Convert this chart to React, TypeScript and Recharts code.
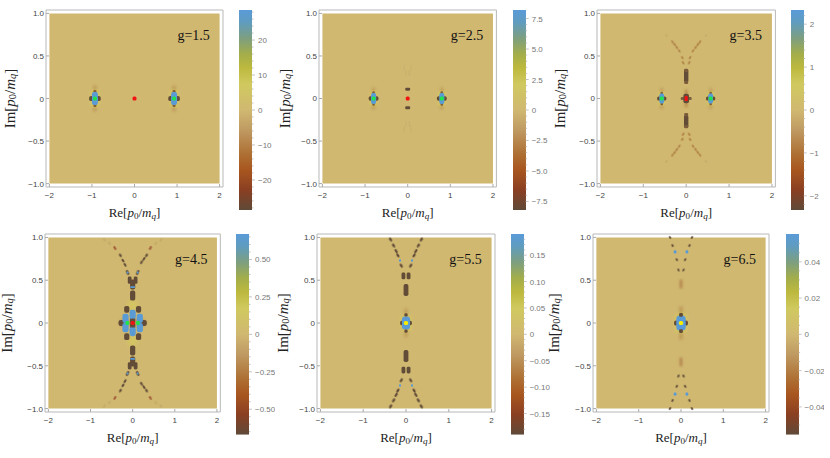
import React from 'react';
import { ScatterChart, Scatter, BarChart, Bar, XAxis, YAxis, ReferenceArea, ReferenceDot } from 'recharts';

// color function of the density plots, top of the bar to the bottom
const colorStops = [
  ['0%', '#5a9bd8'], ['6%', '#5f9cc0'], ['14%', '#7d9f80'], ['22%', '#a3ad4a'], ['29%', '#bdb93e'],
  ['37%', '#d0c95f'], ['50%', '#d0b871'], ['60%', '#bf9a62'], ['72%', '#ae7034'],
  ['80%', '#a8561f'], ['90%', '#8a3f22'], ['100%', '#5f4a38'],
];

const BG = '#d0b871';
const DARK = '#624c37';
const BLUE = '#5b9bd5';
const GREEN = '#1fe34a';
const RED = '#f21212';
const YELLOW = '#f8ee00';
const RUST = '#a9763c';

const xTicks = [-2, -1, 0, 1, 2];
const yTicks = [-1, -0.5, 0, 0.5, 1];

// g=1.5
const g15Poles = [{ x: -0.93, y: 0 }, { x: 0.93, y: 0 }];
const g15Center = [{ x: 0, y: 0 }];
const g15Major = [-20, -10, 0, 10, 20];
const g15Minor = [-28, -26, -24, -22, -18, -16, -14, -12, -8, -6, -4, -2, 2, 4, 6, 8, 12, 14, 16, 18, 22, 24, 26, 28];

// g=2.5
const g25Poles = [{ x: -0.8, y: 0 }, { x: 0.8, y: 0 }];
const g25Center = [{ x: 0, y: 0 }];
const g25Dashes = [{ x: 0, y: 0.11 }, { x: 0, y: -0.11 }];
const g25Faint = [
  { x: -0.04, y: 0.3 }, { x: 0.04, y: 0.3 }, { x: -0.08, y: 0.36 }, { x: 0.08, y: 0.36 },
  { x: -0.04, y: -0.3 }, { x: 0.04, y: -0.3 }, { x: -0.08, y: -0.36 }, { x: 0.08, y: -0.36 },
];
const g25Major = [-7.5, -5, -2.5, 0, 2.5, 5, 7.5];
const g25Minor = [-7, -6.5, -6, -5.5, -4.5, -4, -3.5, -3, -2, -1.5, -1, -0.5, 0.5, 1, 1.5, 2, 3, 3.5, 4, 4.5, 5.5, 6, 6.5, 7];

// g=3.5
const g35Poles = [{ x: -0.57, y: 0 }, { x: 0.57, y: 0 }];
const g35Center = [{ x: 0, y: 0 }];
const g35Blobs = [{ x: 0, y: 0.27 }, { x: 0, y: -0.27 }];
const g35Knots = [{ x: 0, y: 0.33 }, { x: 0, y: -0.33 }, { x: 0, y: 0.19 }, { x: 0, y: -0.19 }];
const g35Dashes = [
  { x: -0.07, y: 0.42 }, { x: 0.07, y: 0.42 }, { x: -0.09, y: 0.48 }, { x: 0.09, y: 0.48 },
  { x: -0.16, y: 0.56 }, { x: 0.16, y: 0.56 }, { x: -0.22, y: 0.6 }, { x: 0.22, y: 0.6 },
  { x: -0.27, y: 0.635 }, { x: 0.27, y: 0.635 }, { x: -0.32, y: 0.665 }, { x: 0.32, y: 0.665 },
  { x: -0.07, y: -0.42 }, { x: 0.07, y: -0.42 }, { x: -0.09, y: -0.48 }, { x: 0.09, y: -0.48 },
  { x: -0.16, y: -0.56 }, { x: 0.16, y: -0.56 }, { x: -0.22, y: -0.6 }, { x: 0.22, y: -0.6 },
  { x: -0.27, y: -0.635 }, { x: 0.27, y: -0.635 }, { x: -0.32, y: -0.665 }, { x: 0.32, y: -0.665 },
];
const g35Faint = [
  { x: -0.46, y: 0.74 }, { x: 0.46, y: 0.74 }, { x: -0.46, y: -0.74 }, { x: 0.46, y: -0.74 },
];
const g35Major = [-2, -1, 0, 1, 2];
const g35Minor = [-2.2, -1.8, -1.6, -1.4, -1.2, -0.8, -0.6, -0.4, -0.2, 0.2, 0.4, 0.6, 0.8, 1.2, 1.4, 1.6, 1.8, 2.2];

// g=4.5
const g45Red = [{ x: 0, y: 0 }];
const g45Halo = [{ x: 0, y: 0.2 }, { x: 0, y: -0.2 }];
const g45Green = [{ x: -0.125, y: 0 }, { x: 0.125, y: 0 }];
const g45SideLobes = [{ x: -0.26, y: 0 }, { x: 0.26, y: 0 }];
const g45DarkLobes = [
  { x: -0.14, y: 0.16 }, { x: 0.14, y: 0.16 }, { x: -0.14, y: -0.16 }, { x: 0.14, y: -0.16 },
  { x: 0, y: 0.035 }, { x: 0, y: -0.035 },
];
const g45BlueLobes = [
  { x: -0.17, y: 0.055 }, { x: 0.17, y: 0.055 }, { x: -0.17, y: -0.055 }, { x: 0.17, y: -0.055 },
  { x: 0, y: 0.1 }, { x: 0, y: -0.1 },
];
const g45Bars = [{ x: 0, y: 0.32 }, { x: 0, y: -0.32 }, { x: 0, y: 0.45 }, { x: 0, y: -0.45 }];
const g45BarGlints = [{ x: 0, y: 0.42 }, { x: 0, y: -0.42 }];
const g45Pairs = [
  { x: -0.07, y: 0.5 }, { x: 0.07, y: 0.5 }, { x: -0.07, y: -0.5 }, { x: 0.07, y: -0.5 },
];
const g45Tips = [
  { x: -0.12, y: 0.59 }, { x: 0.12, y: 0.59 }, { x: -0.12, y: -0.59 }, { x: 0.12, y: -0.59 },
];
const g45Dashes = [
  { x: -0.18, y: 0.68 }, { x: 0.21, y: 0.71 }, { x: -0.23, y: 0.73 }, { x: 0.27, y: 0.75 }, { x: -0.29, y: 0.79 }, { x: 0.33, y: 0.79 },
  { x: -0.18, y: -0.68 }, { x: 0.21, y: -0.71 }, { x: -0.23, y: -0.73 }, { x: 0.27, y: -0.75 }, { x: -0.29, y: -0.79 }, { x: 0.33, y: -0.79 },
];
const g45Rust = [
  { x: -0.42, y: 0.875 }, { x: 0.42, y: 0.875 }, { x: -0.42, y: -0.875 }, { x: 0.42, y: -0.875 },
];
const g45Faint = [
  { x: -0.67, y: 0.97 }, { x: 0.67, y: 0.97 }, { x: -0.55, y: 0.93 }, { x: 0.55, y: 0.93 },
  { x: -0.67, y: -0.97 }, { x: 0.67, y: -0.97 }, { x: -0.55, y: -0.93 }, { x: 0.55, y: -0.93 },
];
const g45Major = [-0.5, -0.25, 0, 0.25, 0.5];
const g45Minor = [-0.65, -0.6, -0.55, -0.45, -0.4, -0.35, -0.3, -0.2, -0.15, -0.1, -0.05, 0.05, 0.1, 0.15, 0.2, 0.3, 0.35, 0.4, 0.45, 0.55, 0.6, 0.65];

// g=5.5
const g55Center = [{ x: 0, y: 0 }];
const g55Lobes = [{ x: 0, y: 0.095 }, { x: 0, y: -0.095 }];
const g55Bars = [{ x: 0, y: 0.385 }, { x: 0, y: -0.385 }];
const g55Pairs = [
  { x: -0.06, y: 0.55 }, { x: 0.06, y: 0.55 }, { x: -0.06, y: -0.55 }, { x: 0.06, y: -0.55 },
];
const g55Tips = [
  { x: -0.14, y: 0.73 }, { x: 0.14, y: 0.73 }, { x: -0.14, y: -0.73 }, { x: 0.14, y: -0.73 },
];
const g55Dashes = [
  { x: -0.11, y: 0.67 }, { x: 0.11, y: 0.67 }, { x: -0.19, y: 0.79 }, { x: 0.19, y: 0.79 },
  { x: -0.23, y: 0.84 }, { x: 0.23, y: 0.84 }, { x: -0.29, y: 0.905 }, { x: 0.29, y: 0.905 },
  { x: -0.36, y: 0.975 }, { x: 0.36, y: 0.975 },
  { x: -0.11, y: -0.67 }, { x: 0.11, y: -0.67 }, { x: -0.19, y: -0.79 }, { x: 0.19, y: -0.79 },
  { x: -0.23, y: -0.84 }, { x: 0.23, y: -0.84 }, { x: -0.29, y: -0.905 }, { x: 0.29, y: -0.905 },
  { x: -0.36, y: -0.975 }, { x: 0.36, y: -0.975 },
];
const g55Major = [-0.15, -0.1, -0.05, 0, 0.05, 0.1, 0.15];
const g55Minor = [-0.18, -0.17, -0.16, -0.14, -0.13, -0.12, -0.11, -0.09, -0.08, -0.07, -0.06, -0.04, -0.03, -0.02, -0.01, 0.01, 0.02, 0.03, 0.04, 0.06, 0.07, 0.08, 0.09, 0.11, 0.12, 0.13, 0.14, 0.16, 0.17, 0.18];

// g=6.5
const g65Center = [{ x: 0, y: 0 }];
const g65Lobes = [{ x: 0, y: 0.095 }, { x: 0, y: -0.095 }];
const g65Streaks = [{ x: 0, y: 0.455 }, { x: 0, y: -0.455 }];
const g65Dashes = [
  { x: -0.06, y: 0.62 }, { x: 0.06, y: 0.62 }, { x: -0.1, y: 0.74 }, { x: 0.1, y: 0.74 },
  { x: -0.2, y: 0.905 }, { x: 0.2, y: 0.905 }, { x: -0.26, y: 1 }, { x: 0.26, y: 1 },
  { x: -0.06, y: -0.62 }, { x: 0.06, y: -0.62 }, { x: -0.1, y: -0.74 }, { x: 0.1, y: -0.74 },
  { x: -0.2, y: -0.905 }, { x: 0.2, y: -0.905 }, { x: -0.26, y: -1 }, { x: 0.26, y: -1 },
];
const g65Tips = [
  { x: -0.14, y: 0.83 }, { x: 0.14, y: 0.83 }, { x: -0.14, y: -0.83 }, { x: 0.14, y: -0.83 },
];
const g65Major = [-0.04, -0.02, 0, 0.02, 0.04];
const g65Minor = [-0.05, -0.045, -0.035, -0.03, -0.025, -0.015, -0.01, -0.005, 0.005, 0.01, 0.015, 0.025, 0.03, 0.035, 0.045, 0.05];

type Pt = { x: number; y: number };
type Layer = { data: Pt[]; fill: string; rx: number; ry: number; blur?: number; opacity?: number; tilt?: number };

const lay = (data: Pt[], fill: string, rx: number, ry: number, blur = 0.5, opacity = 1, tilt = 0): Layer =>
  ({ data, fill, rx, ry, blur, opacity, tilt });

// one pole of the propagator: streak, halo, dark lobes, blue core, green dot
const poleLayers = (data: Pt[], s: number): Layer[] => [
  lay(data, '#a9763c', 1.5 * s, 13 * s, 1.4, 0.55),
  lay(data, '#d6ca5c', 4.5 * s, 9 * s, 1, 0.8),
  lay(data, '#7a5636', 1.5 * s, 8.5 * s, 0.7, 0.9),
  lay(data, DARK, 5.8 * s, 2.6 * s, 0.6),
  lay(data, BLUE, 3 * s, 6.4 * s, 0.5),
  lay(data, GREEN, 2, 2, 0.3),
];

// g=5.5 and g=6.5 share the yellow cross in the middle
const crossLayers = (data: Pt[], lobes: Pt[], s: number): Layer[] => [
  lay(data, '#a9763c', 1.6 * s, 16 * s, 1.5, 0.5),
  lay(data, '#d6ca5c', 6.5 * s, 10 * s, 1.6, 0.6),
  lay(data, DARK, 6.6 * s, 2.4 * s, 0.6),
  lay(data, BLUE, 4.5 * s, 7.2 * s, 0.45),
  lay(lobes, DARK, 1.8 * s, 1.9 * s, 0.5),
  lay(data, YELLOW, 2.1, 2.1, 0.25),
];

const dash = (data: Pt[], fill = DARK, rx = 1, ry = 1.9, opacity = 1): Layer => lay(data, fill, rx, ry, 0.4, opacity, 32);

const panels = [
  {
    g: 'g=1.5', left: 46.3, right: 223.3, top: 10, bottom: 187, labelGap: 34, barLeft: 239, barRight: 252, barBottom: 210,
    max: 28.6, major: g15Major, minor: g15Minor, digits: 0,
    layers: [...poleLayers(g15Poles, 1), lay(g15Center, RED, 2, 2, 0.25)],
  },
  {
    g: 'g=2.5', left: 319.3, right: 496.7, top: 10, bottom: 187, labelGap: 32, barLeft: 513, barRight: 525.7, barBottom: 210,
    max: 8.2, major: g25Major, minor: g25Minor, digits: 1,
    layers: [
      lay(g25Faint, '#c0a468', 0.7, 3, 0.6, 0.35),
      ...poleLayers(g25Poles, 0.85),
      lay(g25Dashes, DARK, 2.5, 1.5, 0.4),
      lay(g25Center, RED, 2, 2, 0.25),
    ],
  },
  {
    g: 'g=3.5', left: 597.3, right: 775.7, top: 10, bottom: 187, labelGap: 35, barLeft: 791, barRight: 803.7, barBottom: 210,
    max: 2.33, major: g35Major, minor: g35Minor, digits: 0,
    layers: [
      dash(g35Dashes, RUST, 0.9, 1.7, 0.8),
      dash(g35Faint, '#bb9c60', 0.7, 1.6, 0.5),
      lay(g35Blobs, DARK, 2.2, 6.5, 0.5),
      lay(g35Knots, '#7b5c3a', 2, 1.6, 0.4),
      ...poleLayers(g35Poles, 0.8),
      lay(g35Center, '#a9763c', 1.5, 9, 1, 0.6),
      lay(g35Center, DARK, 5.5, 1.5, 0.6, 0.8),
      lay(g35Center, DARK, 2.8, 4.8, 0.4),
      lay(g35Center, RED, 1.6, 2.6, 0.2),
    ],
  },
  {
    g: 'g=4.5', left: 44.7, right: 220, top: 234, bottom: 412, labelGap: 36, barLeft: 236, barRight: 249, barBottom: 434.7,
    max: 0.67, major: g45Major, minor: g45Minor, digits: 2,
    layers: [
      lay(g45Halo, '#d6ca5c', 5, 6, 2, 0.7),
      lay(g45Red, '#a9763c', 13, 3, 1.5, 0.5),
      dash(g45Faint, '#bb9c60', 1, 1.8, 0.5),
      dash(g45Rust, '#a45f3a', 1.1, 2, 1),
      dash(g45Dashes),
      lay(g45Tips, DARK, 1.2, 2.4, 0.3, 1, 25),
      lay(g45Tips, BLUE, 1, 1, 0.2),
      lay(g45Pairs, DARK, 1.9, 3.6, 0.3),
      lay(g45Bars, DARK, 2.6, 5, 0.3),
      lay(g45BarGlints, BLUE, 2.4, 0.9, 0.2),
      lay(g45SideLobes, DARK, 3.2, 3, 0.5),
      lay(g45DarkLobes, DARK, 2.6, 3.4, 0.4),
      lay(g45BlueLobes, BLUE, 3.1, 4.6, 0.35),
      lay(g45Green, GREEN, 1.9, 1.9, 0.2),
      lay(g45Red, DARK, 2.2, 4.6, 0.3),
      lay(g45Red, RED, 2, 2, 0.2),
    ],
  },
  {
    g: 'g=5.5', left: 317.3, right: 495.3, top: 234, bottom: 412, labelGap: 32, barLeft: 511, barRight: 523.7, barBottom: 434.7,
    max: 0.19, major: g55Major, minor: g55Minor, digits: 2,
    layers: [
      dash(g55Dashes, DARK, 1.1, 2.1),
      lay(g55Tips, BLUE, 1, 1.2, 0.2),
      lay(g55Pairs, DARK, 1.9, 3.4, 0.3),
      lay(g55Bars, DARK, 2.4, 6, 0.3),
      ...crossLayers(g55Center, g55Lobes, 0.9),
    ],
  },
  {
    g: 'g=6.5', left: 593.3, right: 769.3, top: 234, bottom: 412, labelGap: 37, barLeft: 785.7, barRight: 798.3, barBottom: 434.7,
    max: 0.0553, major: g65Major, minor: g65Minor, digits: 2,
    layers: [
      lay(g65Streaks, '#ad7a45', 1.4, 4.5, 0.9, 0.8),
      dash(g65Dashes, DARK, 0.9, 1.5),
      lay(g65Tips, BLUE, 1.4, 1.6, 0.25),
      ...crossLayers(g65Center, g65Lobes, 1.05),
    ],
  },
];

const SERIF = '"Liberation Serif", serif';
const SANS = '"Liberation Sans", sans-serif';

const fmtAxis = (v: number, digits: number) => {
  if (v === 0) return '0';
  const s = Math.abs(v).toFixed(digits);
  return v < 0 ? '\u2212' + s : s;
};

// p0/mq with the subscripts, shared by both axis titles
const PLabel = ({ head }: { head: string }) => (
  <>
    <tspan>{head}[</tspan>
    <tspan fontStyle="italic">p</tspan>
    <tspan fontSize="0.7em" dy="0.22em">0</tspan>
    <tspan dy="-0.15em">/</tspan>
    <tspan fontStyle="italic">m</tspan>
    <tspan fontSize="0.7em" fontStyle="italic" dy="0.22em">q</tspan>
    <tspan dy="-0.15em">]</tspan>
  </>
);

const markShape = (l: Layer) => (props: any) => {
  const { cx, cy, payload } = props;
  const angle = l.tilt ? (payload.x * payload.y > 0 ? l.tilt : -l.tilt) : 0;
  const corner = Math.min(l.rx, l.ry) * 0.75;
  return (
    <rect
      x={cx - l.rx}
      y={cy - l.ry}
      width={l.rx * 2}
      height={l.ry * 2}
      rx={corner}
      ry={corner}
      fill={l.fill}
      opacity={l.opacity}
      transform={angle ? `rotate(${angle} ${cx} ${cy})` : undefined}
      style={{ filter: l.blur ? `blur(${l.blur}px)` : undefined }}
    />
  );
};

const DensityPanel = ({ p }: { p: (typeof panels)[number] }) => {
  const ml = 46;
  const mb = 38;
  const w = p.right - p.left;
  const h = p.bottom - p.top;
  return (
    <div style={{ position: 'absolute', left: p.left - ml, top: p.top - 4 }}>
      <ScatterChart width={ml + w + 3} height={4 + h + mb} margin={{ top: 4, right: 3, left: 0, bottom: 0 }}>
        <XAxis
          type="number"
          dataKey="x"
          domain={[-2.08, 2.08]}
          ticks={xTicks}
          interval={0}
          height={mb}
          axisLine={false}
          tickLine={false}
          tick={(t: any) => (
            <g>
              <line x1={t.x} x2={t.x} y1={p.bottom - p.top + 4} y2={p.bottom - p.top + 1} stroke="#aaa" />
              <text x={t.x} y={p.bottom - p.top + 4 + 11} textAnchor="middle" fontSize={8} fontFamily={SANS} fill="#444">
                {fmtAxis(t.payload.value, 0)}
              </text>
            </g>
          )}
          label={() => (
            <text x={ml + w / 2} y={4 + h + 30} textAnchor="middle" fontSize={13} fontFamily={SERIF} fill="#222">
              <PLabel head="Re" />
            </text>
          )}
        />
        <YAxis
          type="number"
          dataKey="y"
          domain={[-1.04, 1.04]}
          ticks={yTicks}
          interval={0}
          width={ml}
          axisLine={false}
          tickLine={false}
          tick={(t: any) => (
            <g>
              <line x1={ml} x2={ml + 3} y1={t.y} y2={t.y} stroke="#aaa" />
              <text x={ml - 2} y={t.y + 3} textAnchor="end" fontSize={8} fontFamily={SANS} fill="#444">
                {fmtAxis(t.payload.value, t.payload.value === 0 ? 0 : 1)}
              </text>
            </g>
          )}
          label={() => (
            <text
              x={ml - p.labelGap}
              y={4 + h / 2}
              textAnchor="middle"
              dominantBaseline="middle"
              transform={`rotate(-90 ${ml - p.labelGap} ${4 + h / 2})`}
              fontSize={15}
              fontFamily={SERIF}
              fill="#222"
            >
              <PLabel head="Im" />
            </text>
          )}
        />
        <ReferenceArea x1={-2.08} x2={2.08} y1={-1.04} y2={1.04} fill="#fff" stroke="#b8b8b8" strokeWidth={1} />
        <ReferenceArea x1={-2} x2={2} y1={-1} y2={1} fill={BG} fillOpacity={1} stroke="none" />
        {p.layers.map((l, i) => (
          <Scatter key={i} data={l.data} isAnimationActive={false} shape={markShape(l)} />
        ))}
        <ReferenceDot
          x={1.39}
          y={0.75}
          r={0}
          stroke="none"
          label={{ value: p.g, position: 'center', fontSize: 14, fontFamily: SERIF, fill: '#111' }}
        />
      </ScatterChart>
    </div>
  );
};

const ColorBar = ({ p, id }: { p: (typeof panels)[number]; id: string }) => {
  const w = p.barRight - p.barLeft;
  const h = p.barBottom - p.top;
  const rows = [{ name: p.g, range: [-p.max, p.max] }];
  return (
    <div style={{ position: 'absolute', left: p.barLeft, top: p.top }}>
      <BarChart
        width={w + 26}
        height={h}
        data={rows}
        barCategoryGap={0}
        margin={{ top: 0, right: 0, left: 0, bottom: 0 }}
      >
        <defs>
          <linearGradient id={id} x1="0" y1="0" x2="0" y2="1">
            {colorStops.map(([o, c]) => (
              <stop key={o} offset={o} stopColor={c} />
            ))}
          </linearGradient>
        </defs>
        <XAxis dataKey="name" hide />
        <YAxis
          orientation="right"
          type="number"
          domain={[-p.max, p.max]}
          allowDataOverflow
          ticks={[...p.major, ...p.minor].sort((a, b) => a - b)}
          interval={0}
          width={26}
          axisLine={false}
          tickLine={false}
          tickSize={0}
          tickMargin={0}
          tick={(t: any) => {
            const isMajor = p.major.includes(t.payload.value);
            return (
              <g>
                <line x1={w} x2={w + (isMajor ? 3 : 1.5)} y1={t.y} y2={t.y} stroke="#c4c4c4" />
                {isMajor && (
                  <text x={w + 6} y={t.y + 3} fontSize={8} fontFamily={SANS} fill="#777">
                    {fmtAxis(t.payload.value, t.payload.value === 0 ? 0 : p.digits)}
                  </text>
                )}
              </g>
            );
          }}
        />
        <Bar dataKey="range" fill={`url(#${id})`} isAnimationActive={false} />
      </BarChart>
    </div>
  );
};

export default function App() {
  return (
    <div style={{ position: 'absolute', left: 0, top: 0, width: 830, height: 458, background: '#fff', overflow: 'hidden' }}>
      {panels.map((p, i) => (
        <React.Fragment key={p.g}>
          <DensityPanel p={p} />
          <ColorBar p={p} id={`bar${i}`} />
        </React.Fragment>
      ))}
    </div>
  );
}
